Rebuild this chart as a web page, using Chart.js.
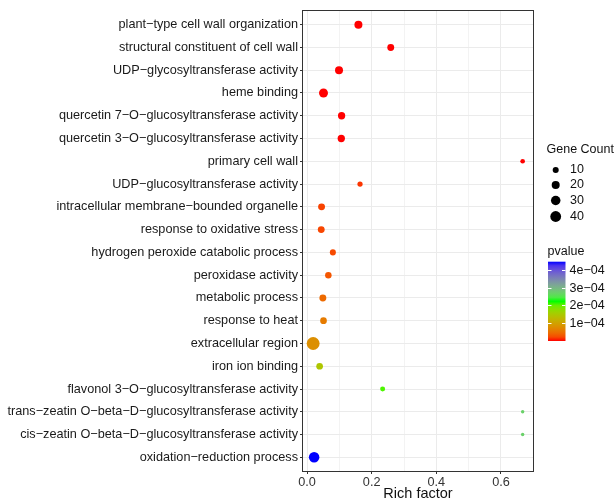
<!DOCTYPE html>
<html>
<head>
<meta charset="utf-8">
<script src="https://cdn.jsdelivr.net/npm/chart.js@4/dist/chart.umd.min.js"></script>
<style>
  html, body { margin: 0; padding: 0; background: #fff; }
  #wrap { width: 616px; height: 502px; }
</style>
</head>
<body>
<div id="wrap"><canvas id="goChart" width="616" height="502"></canvas></div>
<script>
// GO terms, top to bottom (sorted by pvalue)
const categories = [
  'plant−type cell wall organization',
  'structural constituent of cell wall',
  'UDP−glycosyltransferase activity',
  'heme binding',
  'quercetin 7−O−glucosyltransferase activity',
  'quercetin 3−O−glucosyltransferase activity',
  'primary cell wall',
  'UDP−glucosyltransferase activity',
  'intracellular membrane−bounded organelle',
  'response to oxidative stress',
  'hydrogen peroxide catabolic process',
  'peroxidase activity',
  'metabolic process',
  'response to heat',
  'extracellular region',
  'iron ion binding',
  'flavonol 3−O−glucosyltransferase activity',
  'trans−zeatin O−beta−D−glucosyltransferase activity',
  'cis−zeatin O−beta−D−glucosyltransferase activity',
  'oxidation−reduction process'
];
const richFactor = [0.159, 0.259, 0.099, 0.051, 0.107, 0.106, 0.667, 0.164, 0.045, 0.044,
                    0.080, 0.066, 0.049, 0.051, 0.019, 0.039, 0.234, 0.667, 0.667, 0.022];
const geneCount = [20, 14, 20, 26, 16, 16, 5, 7, 14, 14,
                   10, 12, 14, 13, 60, 13, 6, 2, 2, 38];
const pvalue = [1e-9, 4e-9, 8e-9, 1.2e-8, 2e-8, 3e-8, 6e-8, 1.2e-5, 1.8e-5, 2.0e-5,
                2.2e-5, 3.0e-5, 4.5e-5, 6.0e-5, 8.0e-5, 1.45e-4, 2.1e-4, 2.7e-4, 2.7e-4, 4.45e-4];

const xTicks = [0, 0.1, 0.2, 0.3, 0.4, 0.5, 0.6];
const sizeBreaks = [10, 20, 30, 40];
const pvalueBreaks = [1e-4, 2e-4, 3e-4, 4e-4];

const FONT = "'Liberation Sans', Arial, Helvetica, sans-serif";

// ---- colour scale: red -> green -> blue, interpolated in Lab ----
function lin(c) { c /= 255; return c <= 0.04045 ? c / 12.92 : Math.pow((c + 0.055) / 1.055, 2.4); }
function unlin(c) { c = c <= 0.0031308 ? 12.92 * c : 1.055 * Math.pow(c, 1 / 2.4) - 0.055; return Math.round(Math.max(0, Math.min(1, c)) * 255); }
function toLab(rgb) {
  const R = lin(rgb[0]), G = lin(rgb[1]), B = lin(rgb[2]);
  const X = (0.4124 * R + 0.3576 * G + 0.1805 * B) / 0.95047;
  const Y = 0.2126 * R + 0.7152 * G + 0.0722 * B;
  const Z = (0.0193 * R + 0.1192 * G + 0.9505 * B) / 1.08883;
  const f = t => t > 0.008856 ? Math.cbrt(t) : 7.787 * t + 16 / 116;
  const fx = f(X), fy = f(Y), fz = f(Z);
  return [116 * fy - 16, 500 * (fx - fy), 200 * (fy - fz)];
}
function fromLab(lab) {
  const fy = (lab[0] + 16) / 116, fx = fy + lab[1] / 500, fz = fy - lab[2] / 200;
  const g = t => t > 0.206893 ? t * t * t : (t - 16 / 116) / 7.787;
  const X = g(fx) * 0.95047, Y = g(fy), Z = g(fz) * 1.08883;
  const R = 3.2406 * X - 1.5372 * Y - 0.4986 * Z;
  const G = -0.9689 * X + 1.8758 * Y + 0.0415 * Z;
  const B = 0.0557 * X - 0.2040 * Y + 1.0570 * Z;
  return 'rgb(' + unlin(R) + ',' + unlin(G) + ',' + unlin(B) + ')';
}
const stops = [[255, 0, 0], [0, 255, 0], [0, 0, 255]].map(toLab);
const pMin = Math.min(...pvalue), pMax = Math.max(...pvalue);
function colourAt(t) {
  t = Math.max(0, Math.min(1, t));
  const seg = t < 0.5 ? 0 : 1;
  const u = (t - seg * 0.5) / 0.5;
  const a = stops[seg], b = stops[seg + 1];
  return fromLab([0, 1, 2].map(i => a[i] + (b[i] - a[i]) * u));
}
function pColour(p) { return colourAt((p - pMin) / (pMax - pMin)); }

// point size from gene count (diameter grows with sqrt of count)
function radius(n) { return (1.5 * Math.sqrt(n) + 1.3) / 2; }

const points = categories.map((c, i) => ({ x: richFactor[i], y: i + 1, r: radius(geneCount[i]) }));

// panel frame + legends
const extras = {
  id: 'extras',
  afterDraw(chart) {
    const ctx = chart.ctx, a = chart.chartArea;
    ctx.save();
    ctx.strokeStyle = '#333';
    ctx.lineWidth = 1;
    ctx.strokeRect(Math.round(a.left) - 0.5, Math.round(a.top) - 0.5,
                   Math.round(a.right - a.left) + 1, Math.round(a.bottom - a.top) + 1);

    // x axis title
    ctx.fillStyle = '#111';
    ctx.font = '14.5px ' + FONT;
    ctx.textAlign = 'center';
    ctx.textBaseline = 'middle';
    ctx.fillText('Rich factor', (a.left + a.right) / 2, 494);

    // size legend
    ctx.textAlign = 'left';
    ctx.font = '12.5px ' + FONT;
    ctx.fillText('Gene Count', 546.5, 149.5);
    ctx.font = '12.5px ' + FONT;
    const sy = [170, 185, 200.5, 216.5];
    sizeBreaks.forEach((n, i) => {
      ctx.fillStyle = '#000';
      ctx.beginPath();
      ctx.arc(555.7, sy[i], radius(n), 0, Math.PI * 2);
      ctx.fill();
      ctx.fillStyle = '#111';
      ctx.fillText(String(n), 570, sy[i]);
    });

    // colour bar
    ctx.font = '12.5px ' + FONT;
    ctx.fillText('pvalue', 547.5, 251.5);
    const bx = 548, bw = 17.5, top = 261.7, bot = 341;
    const grad = ctx.createLinearGradient(0, bot, 0, top);
    for (let k = 0; k <= 20; k++) grad.addColorStop(k / 20, colourAt(k / 20));
    ctx.fillStyle = grad;
    ctx.fillRect(bx, top, bw, bot - top);
    ctx.font = '12.5px ' + FONT;
    pvalueBreaks.forEach(v => {
      const y = Math.round(bot - (v - pMin) / (pMax - pMin) * (bot - top)) + 0.5;
      ctx.strokeStyle = '#fff';
      ctx.beginPath();
      ctx.moveTo(bx, y); ctx.lineTo(bx + 3.5, y);
      ctx.moveTo(bx + bw - 3.5, y); ctx.lineTo(bx + bw, y);
      ctx.stroke();
      ctx.fillStyle = '#111';
      const m = v.toExponential(0).replace('e-', 'e−0');
      ctx.fillText(m, 569.5, y);
    });
    ctx.restore();
  }
};

const ctx = document.getElementById('goChart').getContext('2d');
new Chart(ctx, {
  type: 'bubble',
  data: {
    datasets: [{
      data: points,
      backgroundColor: pvalue.map(pColour),
      borderWidth: 0,
      hoverBorderWidth: 0
    }]
  },
  options: {
    responsive: false,
    animation: false,
    layout: { padding: { left: 0, right: 83, top: 11, bottom: 0 } },
    plugins: { legend: { display: false }, tooltip: { enabled: false } },
    scales: {
      x: {
        type: 'linear',
        min: -0.0124,
        max: 0.699,
        afterBuildTicks: axis => { axis.ticks = xTicks.map(v => ({ value: v })); },
        afterFit: axis => { axis.height = 31; },
        border: { display: false },
        grid: {
          color: c => (Math.round(c.tick.value * 10) % 2 === 0) ? '#ebebeb' : '#f3f3f3',
          lineWidth: 1,
          tickLength: 3,
          tickColor: c => (Math.round(c.tick.value * 10) % 2 === 0) ? '#333' : 'rgba(0,0,0,0)'
        },
        ticks: {
          autoSkip: false,
          maxRotation: 0,
          padding: 1,
          color: '#333',
          font: { family: FONT, size: 12.7 },
          callback: v => (Math.round(v * 10) % 2 === 0) ? v.toFixed(1) : ''
        }
      },
      y: {
        type: 'linear',
        reverse: true,
        min: 0.4,
        max: categories.length + 0.6,
        afterBuildTicks: axis => { axis.ticks = categories.map((c, i) => ({ value: i + 1 })); },
        afterFit: axis => { axis.width = 303; },
        border: { display: false },
        grid: { color: '#ebebeb', lineWidth: 1, tickLength: 3, tickColor: '#333' },
        ticks: {
          autoSkip: false,
          padding: 2,
          color: '#1a1a1a',
          font: { family: FONT, size: 12.7 },
          callback: v => categories[v - 1]
        }
      }
    }
  },
  plugins: [extras]
});
</script>
</body>
</html>
